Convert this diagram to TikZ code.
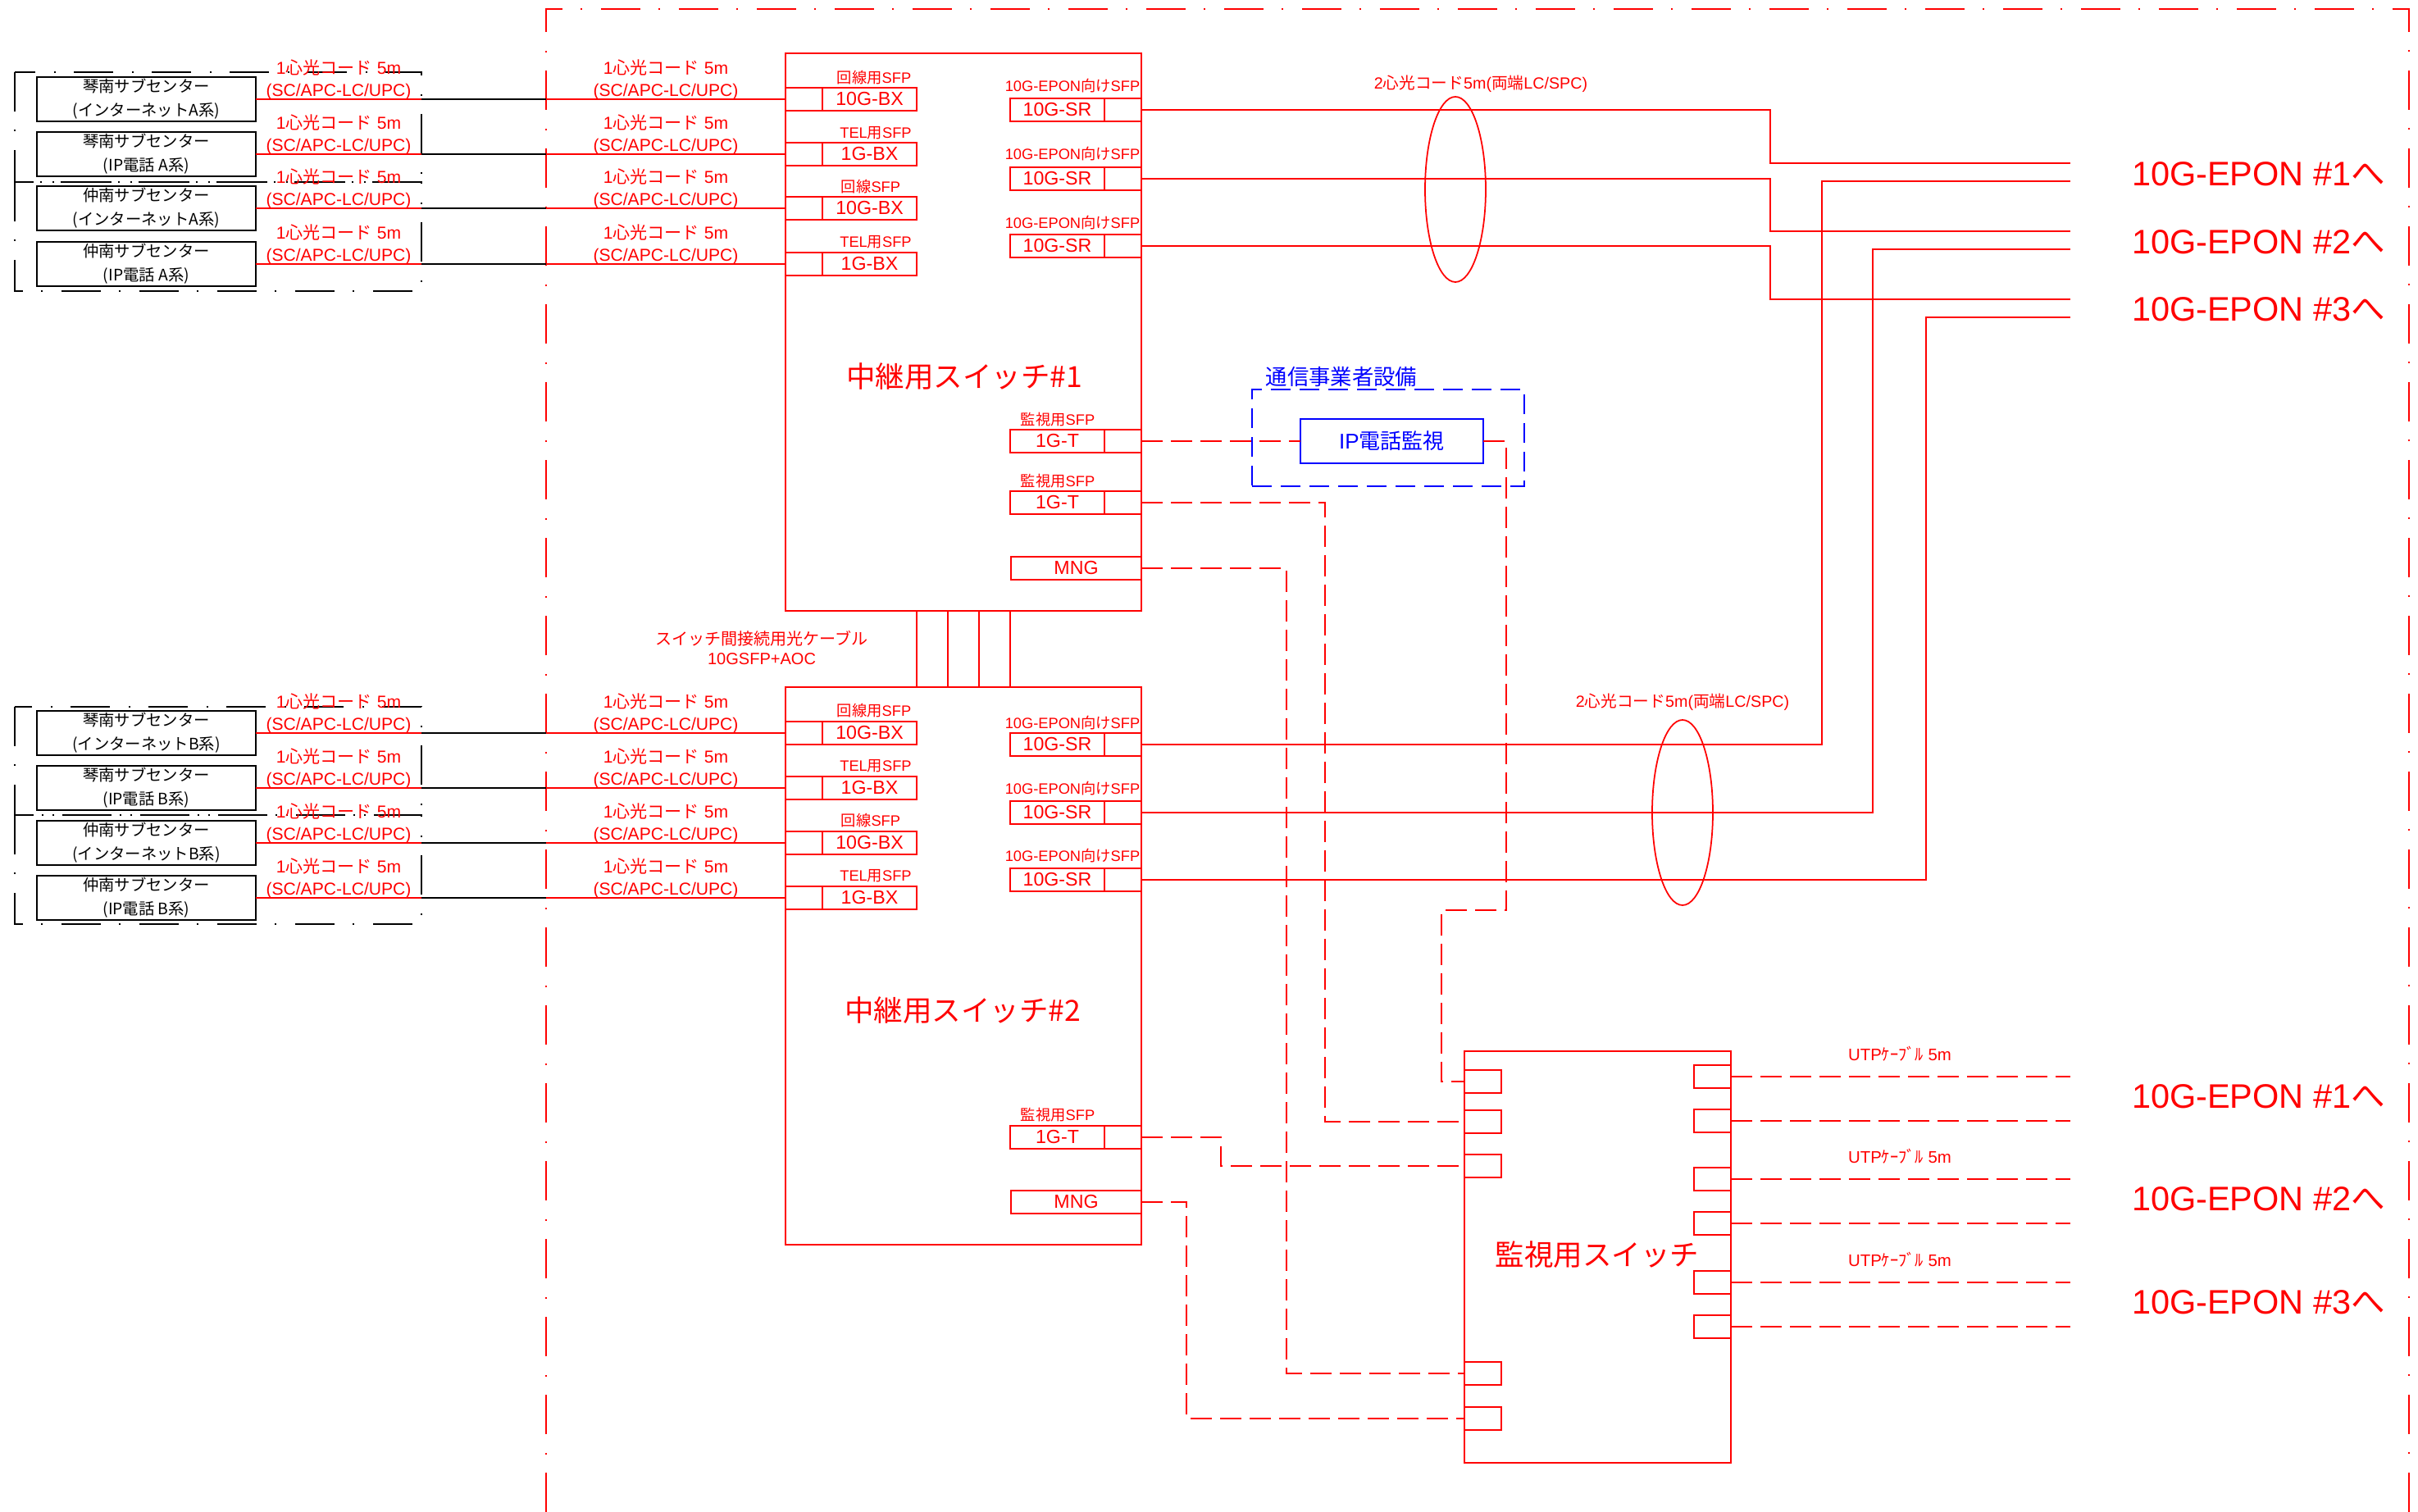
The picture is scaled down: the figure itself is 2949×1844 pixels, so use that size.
\documentclass[tikz,border=0pt]{standalone}
\usepackage{fontspec}
\setmainfont{Liberation Sans}
\newfontfamily\jp{Noto Sans CJK JP}
\usetikzlibrary{positioning, calc}

\definecolor{cadred}{RGB}{255,0,0}
\definecolor{cadblue}{RGB}{0,0,255}

\newcommand{\cordtext}{1{\jp 心光コード} 5m\\(SC/APC-LC/UPC)}
\newcommand{\pairtext}{2{\jp 心光コード}5m({\jp 両端}LC/SPC)}
\newcommand{\utptext}{UTP{\jp ｹｰﾌﾞﾙ} 5m}
\newcommand{\sfpepon}{10G-EPON{\jp 向け}SFP}

\begin{document}
\begin{tikzpicture}[
    x=0.1mm, y=-0.1mm,
    every node/.style={inner sep=0pt, outer sep=0pt, text=cadred},
    redline/.style={draw=cadred, line width=0.6pt},
    thinred/.style={draw=cadred, line width=0.5pt},
    blackline/.style={draw=black, line width=0.6pt},
    dashline/.style={draw=cadred, line width=0.6pt, dash pattern=on 2.6mm off 1mm},
    fenceline/.style={draw=cadred, line width=0.6pt,
        dash pattern=on 4.8mm off 2.2mm on 0.2mm off 2.3mm},
    groupline/.style={fenceline, draw=black},
    sitebox/.style={
        draw=black,
        line width=0.7pt,
        text=black,
        minimum width=26.7mm,
        minimum height=5.4mm,
        align=center,
        font=\jp\fontsize{5.5}{8.2}\selectfont
    },
    swbox/.style={
        draw=cadred,
        line width=0.7pt,
        minimum width=43.4mm,
        minimum height=68mm,
        anchor=north west
    },
    swname/.style={font=\jp\fontsize{10.1}{12}\selectfont},
    port/.style={draw=cadred, line width=0.8pt, minimum height=2.8mm,
        font=\fontsize{6.6}{7}\selectfont},
    portlbl/.style={port, minimum width=11.5mm},
    stub/.style={port, minimum width=4.5mm},
    mport/.style={port, minimum width=4.5mm},
    sfptext/.style={font=\fontsize{5.2}{6}\selectfont},
    cordlbl/.style={align=center, font=\fontsize{6}{7.7}\selectfont},
    pairlbl/.style={font=\fontsize{5.6}{6}\selectfont},
    utplbl/.style={font=\fontsize{5.8}{6}\selectfont},
    epon/.style={anchor=west, font=\fontsize{11.8}{13}\selectfont},
    carrier/.style={draw=cadblue, line width=0.7pt, dash pattern=on 2.4mm off 1.1mm,
        minimum width=33.2mm, minimum height=11.8mm},
    ipbox/.style={draw=cadblue, line width=0.8pt, text=cadblue,
        minimum width=22.3mm, minimum height=5.4mm,
        font=\fontsize{7.4}{8}\selectfont}
]

\useasboundingbox (0,0) rectangle (2949,1844);

% Outer frame and site groups
\draw[fenceline] (666,1844) -- (666,11) -- (2938,11) -- (2938,1844);
\draw[groupline] (18,88) rectangle (514,222);
\draw[groupline] (18,222) rectangle (514,355);
\draw[groupline] (18,862) rectangle (514,994);
\draw[groupline] (18,994) rectangle (514,1127);
\coordinate (grpedge) at (514,0);
\coordinate (fenceedge) at (666,0);

% Sub-centers
\node[sitebox] (siteA1) at (178.5,121) {琴南サブセンター\\(インターネットA系)};
\node[sitebox] (siteA2) at (178.5,188) {琴南サブセンター\\(IP電話 A系)};
\node[sitebox] (siteA3) at (178.5,254) {仲南サブセンター\\(インターネットA系)};
\node[sitebox] (siteA4) at (178.5,322) {仲南サブセンター\\(IP電話 A系)};
\node[sitebox] (siteB1) at (178.5,894) {琴南サブセンター\\(インターネットB系)};
\node[sitebox] (siteB2) at (178.5,961) {琴南サブセンター\\(IP電話 B系)};
\node[sitebox] (siteB3) at (178.5,1028) {仲南サブセンター\\(インターネットB系)};
\node[sitebox] (siteB4) at (178.5,1095) {仲南サブセンター\\(IP電話 B系)};

% Relay switch #1
\node[swbox] (sw1) at (958,65) {};
\node[swname] (sw1name) at (1176,459) {中継用スイッチ\#1};
\node[portlbl, anchor=west] (sw1l1) at (1003,121) {10G-BX};
\node[stub, left=0pt of sw1l1] (sw1l1s) {};
\node[sfptext] at (1066,95) {{\jp 回線用}SFP};
\node[portlbl, anchor=west] (sw1l2) at (1003,188) {1G-BX};
\node[stub, left=0pt of sw1l2] (sw1l2s) {};
\node[sfptext] at (1068,162) {TEL{\jp 用}SFP};
\node[portlbl, anchor=west] (sw1l3) at (1003,254) {10G-BX};
\node[stub, left=0pt of sw1l3] (sw1l3s) {};
\node[sfptext] at (1062,228) {{\jp 回線}SFP};
\node[portlbl, anchor=west] (sw1l4) at (1003,322) {1G-BX};
\node[stub, left=0pt of sw1l4] (sw1l4s) {};
\node[sfptext] at (1068,295) {TEL{\jp 用}SFP};
\node[portlbl, anchor=east] (sw1r1) at (1347,134) {10G-SR};
\node[stub, right=0pt of sw1r1] (sw1r1s) {};
\node[sfptext] at (1308,105) {\sfpepon};
\node[portlbl, anchor=east] (sw1r2) at (1347,218) {10G-SR};
\node[stub, right=0pt of sw1r2] (sw1r2s) {};
\node[sfptext] at (1308,188) {\sfpepon};
\node[portlbl, anchor=east] (sw1r3) at (1347,300) {10G-SR};
\node[stub, right=0pt of sw1r3] (sw1r3s) {};
\node[sfptext] at (1308,272) {\sfpepon};
\node[portlbl, anchor=east] (sw1t1) at (1347,538) {1G-T};
\node[stub, right=0pt of sw1t1] (sw1t1s) {};
\node[sfptext] at (1290,512) {{\jp 監視用}SFP};
\node[portlbl, anchor=east] (sw1t2) at (1347,613) {1G-T};
\node[stub, right=0pt of sw1t2] (sw1t2s) {};
\node[sfptext] at (1290,587) {{\jp 監視用}SFP};
\node[port, minimum width=15.9mm, anchor=east] (sw1mng) at (1392,693) {MNG};

% Relay switch #2
\node[swbox] (sw2) at (958,838) {};
\node[swname] (sw2name) at (1174,1232) {中継用スイッチ\#2};
\node[portlbl, anchor=west] (sw2l1) at (1003,894) {10G-BX};
\node[stub, left=0pt of sw2l1] (sw2l1s) {};
\node[sfptext] at (1066,867) {{\jp 回線用}SFP};
\node[portlbl, anchor=west] (sw2l2) at (1003,961) {1G-BX};
\node[stub, left=0pt of sw2l2] (sw2l2s) {};
\node[sfptext] at (1068,934) {TEL{\jp 用}SFP};
\node[portlbl, anchor=west] (sw2l3) at (1003,1028) {10G-BX};
\node[stub, left=0pt of sw2l3] (sw2l3s) {};
\node[sfptext] at (1062,1001) {{\jp 回線}SFP};
\node[portlbl, anchor=west] (sw2l4) at (1003,1095) {1G-BX};
\node[stub, left=0pt of sw2l4] (sw2l4s) {};
\node[sfptext] at (1068,1068) {TEL{\jp 用}SFP};
\node[portlbl, anchor=east] (sw2r1) at (1347,908) {10G-SR};
\node[stub, right=0pt of sw2r1] (sw2r1s) {};
\node[sfptext] at (1308,882) {\sfpepon};
\node[portlbl, anchor=east] (sw2r2) at (1347,991) {10G-SR};
\node[stub, right=0pt of sw2r2] (sw2r2s) {};
\node[sfptext] at (1308,962) {\sfpepon};
\node[portlbl, anchor=east] (sw2r3) at (1347,1073) {10G-SR};
\node[stub, right=0pt of sw2r3] (sw2r3s) {};
\node[sfptext] at (1308,1044) {\sfpepon};
\node[portlbl, anchor=east] (sw2t1) at (1347,1387) {1G-T};
\node[stub, right=0pt of sw2t1] (sw2t1s) {};
\node[sfptext] at (1290,1360) {{\jp 監視用}SFP};
\node[port, minimum width=15.9mm, anchor=east] (sw2mng) at (1392,1466) {MNG};

% Inter-switch cables
\draw[redline] ([xshift=16mm]sw1.south west) -- ([xshift=16mm]sw2.north west);
\draw[redline] ([xshift=19.8mm]sw1.south west) -- ([xshift=19.8mm]sw2.north west);
\draw[redline] ([xshift=23.6mm]sw1.south west) -- ([xshift=23.6mm]sw2.north west);
\draw[redline] ([xshift=27.4mm]sw1.south west) -- ([xshift=27.4mm]sw2.north west);
\node[cordlbl, font=\fontsize{5.7}{7.1}\selectfont] (aoc) at (929,790)
    {{\jp スイッチ間接続用光ケーブル}\\10GSFP+AOC};

% Single-fiber cords
\node[cordlbl] (cordA1) at (413,97) {\cordtext};
\node[cordlbl] (cordA2) at (413,164) {\cordtext};
\node[cordlbl] (cordA3) at (413,230) {\cordtext};
\node[cordlbl] (cordA4) at (413,298) {\cordtext};
\node[cordlbl] (cordB1) at (413,870) {\cordtext};
\node[cordlbl] (cordB2) at (413,937) {\cordtext};
\node[cordlbl] (cordB3) at (413,1004) {\cordtext};
\node[cordlbl] (cordB4) at (413,1071) {\cordtext};
\node[cordlbl] (cordC1) at (812,97) {\cordtext};
\node[cordlbl] (cordC2) at (812,164) {\cordtext};
\node[cordlbl] (cordC3) at (812,230) {\cordtext};
\node[cordlbl] (cordC4) at (812,298) {\cordtext};
\node[cordlbl] (cordD1) at (812,870) {\cordtext};
\node[cordlbl] (cordD2) at (812,937) {\cordtext};
\node[cordlbl] (cordD3) at (812,1004) {\cordtext};
\node[cordlbl] (cordD4) at (812,1071) {\cordtext};

\draw[redline] (siteA1.east) -- (siteA1.east -| grpedge) (siteA1.east -| fenceedge) -- (sw1l1s.west);
\draw[blackline] (siteA1.east -| grpedge) -- (siteA1.east -| fenceedge);
\draw[redline] (siteA2.east) -- (siteA2.east -| grpedge) (siteA2.east -| fenceedge) -- (sw1l2s.west);
\draw[blackline] (siteA2.east -| grpedge) -- (siteA2.east -| fenceedge);
\draw[redline] (siteA3.east) -- (siteA3.east -| grpedge) (siteA3.east -| fenceedge) -- (sw1l3s.west);
\draw[blackline] (siteA3.east -| grpedge) -- (siteA3.east -| fenceedge);
\draw[redline] (siteA4.east) -- (siteA4.east -| grpedge) (siteA4.east -| fenceedge) -- (sw1l4s.west);
\draw[blackline] (siteA4.east -| grpedge) -- (siteA4.east -| fenceedge);
\draw[redline] (siteB1.east) -- (siteB1.east -| grpedge) (siteB1.east -| fenceedge) -- (sw2l1s.west);
\draw[blackline] (siteB1.east -| grpedge) -- (siteB1.east -| fenceedge);
\draw[redline] (siteB2.east) -- (siteB2.east -| grpedge) (siteB2.east -| fenceedge) -- (sw2l2s.west);
\draw[blackline] (siteB2.east -| grpedge) -- (siteB2.east -| fenceedge);
\draw[redline] (siteB3.east) -- (siteB3.east -| grpedge) (siteB3.east -| fenceedge) -- (sw2l3s.west);
\draw[blackline] (siteB3.east -| grpedge) -- (siteB3.east -| fenceedge);
\draw[redline] (siteB4.east) -- (siteB4.east -| grpedge) (siteB4.east -| fenceedge) -- (sw2l4s.west);
\draw[blackline] (siteB4.east -| grpedge) -- (siteB4.east -| fenceedge);

% Two-fiber cords to 10G-EPON
\coordinate (epon1a) at (2525,199);
\coordinate (epon1b) at (2525,221);
\coordinate (epon2a) at (2525,282);
\coordinate (epon2b) at (2525,304);
\coordinate (epon3a) at (2525,365);
\coordinate (epon3b) at (2525,387);
\draw[redline] (sw1r1s.east) -- ++(76.7mm,0) |- (epon1a);
\draw[redline] (sw1r2s.east) -- ++(76.7mm,0) |- (epon2a);
\draw[redline] (sw1r3s.east) -- ++(76.7mm,0) |- (epon3a);
\draw[redline] (sw2r1s.east) -- ++(83mm,0) |- (epon1b);
\draw[redline] (sw2r2s.east) -- ++(89.2mm,0) |- (epon2b);
\draw[redline] (sw2r3s.east) -- ++(95.7mm,0) |- (epon3b);
\draw[thinred] (1775,231) ellipse [x radius=3.7mm, y radius=11.3mm];
\draw[thinred] (2052,991) ellipse [x radius=3.7mm, y radius=11.3mm];
\node[pairlbl] (pair1) at (1806,102) {\pairtext};
\node[pairlbl] (pair2) at (2052,856) {\pairtext};
\node[epon] (eponU1) at (2600,212) {10G-EPON \#1{\jp へ}};
\node[epon] (eponU2) at (2600,295) {10G-EPON \#2{\jp へ}};
\node[epon] (eponU3) at (2600,377) {10G-EPON \#3{\jp へ}};

% Carrier equipment
\node[carrier] (carrier) at (1693,534) {};
\node[text=cadblue, font=\jp\fontsize{7.5}{8}\selectfont] (carriername) at (1636,460) {通信事業者設備};
\node[ipbox] (ipmon) at (1697.5,538) {IP{\jp 電話監視}};

% Monitoring switch
\node[swbox, minimum width=32.5mm, minimum height=50.2mm] (mon) at (1786,1282) {};
\node[swname] (monname) at (1948,1530) {監視用スイッチ};
\node[mport, anchor=west] (monl1) at (1786,1319) {};
\node[mport, anchor=west] (monl2) at (1786,1368) {};
\node[mport, anchor=west] (monl3) at (1786,1422) {};
\node[mport, anchor=west] (monl4) at (1786,1675) {};
\node[mport, anchor=west] (monl5) at (1786,1730) {};
\node[mport, anchor=east] (monr1) at (2111,1313) {};
\node[mport, anchor=east] (monr2) at (2111,1367) {};
\node[mport, anchor=east] (monr3) at (2111,1438) {};
\node[mport, anchor=east] (monr4) at (2111,1492) {};
\node[mport, anchor=east] (monr5) at (2111,1564) {};
\node[mport, anchor=east] (monr6) at (2111,1618) {};

% Monitoring links
\draw[dashline] (sw1t1s.east) -- (ipmon.west);
\draw[dashline] (ipmon.east) -| (1837,1110) -- (1758,1110) |- (monl1.west);
\draw[dashline] (sw1t2s.east) -- ++(22.4mm,0) |- (monl2.west);
\draw[dashline] (sw1mng.east) -- ++(17.7mm,0) |- (monl4.west);
\draw[dashline] (sw2t1s.east) -- ++(9.7mm,0) |- (monl3.west);
\draw[dashline] (sw2mng.east) -- ++(5.5mm,0) |- (monl5.west);

% UTP cables to 10G-EPON
\coordinate (utp1) at (2525,1313);
\coordinate (utp2) at (2525,1367);
\coordinate (utp3) at (2525,1438);
\coordinate (utp4) at (2525,1492);
\coordinate (utp5) at (2525,1564);
\coordinate (utp6) at (2525,1618);
\draw[dashline] (monr1.east) -- (utp1);
\draw[dashline] (monr2.east) -- (utp2);
\draw[dashline] (monr3.east) -- (utp3);
\draw[dashline] (monr4.east) -- (utp4);
\draw[dashline] (monr5.east) -- (utp5);
\draw[dashline] (monr6.east) -- (utp6);
\node[utplbl] (utpname1) at (2317,1285) {\utptext};
\node[utplbl] (utpname2) at (2317,1410) {\utptext};
\node[utplbl] (utpname3) at (2317,1536) {\utptext};
\node[epon] (eponL1) at (2600,1337) {10G-EPON \#1{\jp へ}};
\node[epon] (eponL2) at (2600,1462) {10G-EPON \#2{\jp へ}};
\node[epon] (eponL3) at (2600,1588) {10G-EPON \#3{\jp へ}};

\end{tikzpicture}
\end{document}
